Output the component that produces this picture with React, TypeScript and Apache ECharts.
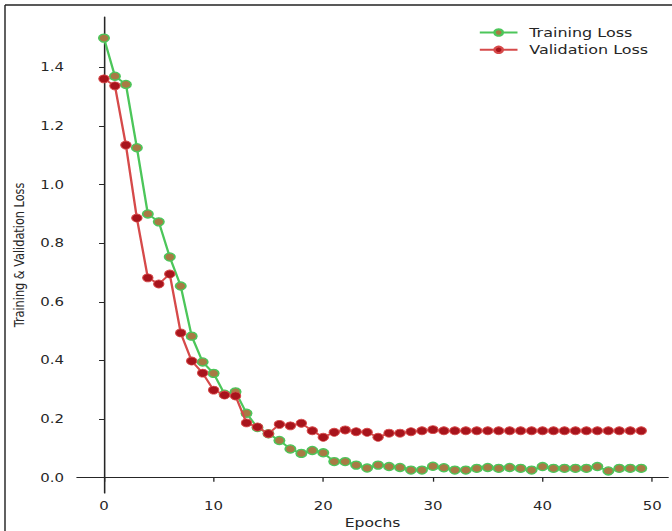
import React, { useEffect, useRef } from "react";
import * as echarts from "echarts";

const epochs: number[] = Array.from({ length: 50 }, (_, i) => i);

const trainingLoss: number[] = [
  1.50, 1.37, 1.342, 1.126, 0.90, 0.873, 0.753, 0.654, 0.483, 0.395,
  0.356, 0.285, 0.293, 0.22, 0.171, 0.15, 0.127, 0.098, 0.083, 0.093,
  0.085, 0.055, 0.055, 0.043, 0.033, 0.043, 0.038, 0.035, 0.026, 0.026,
  0.039, 0.034, 0.026, 0.026, 0.032, 0.035, 0.032, 0.035, 0.032, 0.026,
  0.038, 0.032, 0.032, 0.032, 0.032, 0.038, 0.023, 0.032, 0.032, 0.032,
];

const validationLoss: number[] = [
  1.361, 1.337, 1.135, 0.886, 0.682, 0.661, 0.695, 0.494, 0.398, 0.357,
  0.299, 0.282, 0.279, 0.187, 0.173, 0.150, 0.182, 0.177, 0.186, 0.160,
  0.138, 0.155, 0.163, 0.157, 0.155, 0.138, 0.152, 0.152, 0.157, 0.160,
  0.164, 0.160, 0.160, 0.160, 0.160, 0.160, 0.160, 0.160, 0.160, 0.160,
  0.160, 0.160, 0.160, 0.160, 0.160, 0.160, 0.160, 0.160, 0.160, 0.160,
];

const yTicks: number[] = [0, 0.2, 0.4, 0.6, 0.8, 1.0, 1.2, 1.4];
const xTicks: number[] = [0, 10, 20, 30, 40, 50];

const FONT = "DejaVu Sans";
const STRETCH = 1.3; // the reference picture is stretched horizontally
const W = 672 / STRETCH;
const H = 531;
const TXT = "#262626";

export default function App() {
  const ref = useRef<HTMLDivElement>(null);
  useEffect(() => {
    if (!ref.current) return;
    const chart = echarts.init(ref.current, undefined, { renderer: "svg" });
    chart.setOption({
      animation: false,
      backgroundColor: "#ffffff",
      grid: {
        left: 77 / STRETCH,
        right: W - 668 / STRETCH,
        top: 17,
        bottom: 38,
        containLabel: false,
        outerBoundsMode: "none",
      },
      legend: {
        orient: "vertical",
        left: 472 / STRETCH,
        top: 21.5,
        itemWidth: 29,
        itemHeight: 8,
        itemGap: 5.3,
        textStyle: { fontFamily: FONT, fontSize: 12.3, color: TXT, padding: [0, 0, 0, 4] },
        data: ["Training Loss", "Validation Loss"],
      },
      xAxis: {
        type: "value",
        min: -2.46,
        max: 51.45,
        name: "Epochs",
        nameLocation: "middle",
        nameGap: 23,
        nameTextStyle: { fontFamily: FONT, fontSize: 12, color: TXT },
        axisLine: { show: true, lineStyle: { color: TXT, width: 1.2 } },
        axisTick: { show: true, length: 4, customValues: xTicks, lineStyle: { color: TXT } },
        axisLabel: {
          customValues: xTicks,
          fontFamily: FONT,
          fontSize: 11.5,
          color: TXT,
          margin: 7,
          formatter: (v: number) => String(Math.round(v)),
        },
        splitLine: { show: false },
      },
      yAxis: {
        type: "value",
        min: -0.0522,
        max: 1.572,
        name: "Training & Validation Loss",
        nameLocation: "middle",
        nameGap: 34,
        nameRotate: 90,
        nameTextStyle: { fontFamily: FONT, fontSize: 11.3, color: TXT },
        axisLine: { show: true, lineStyle: { color: TXT, width: 1.2 } },
        axisTick: { show: true, length: 3.8, customValues: yTicks, lineStyle: { color: TXT } },
        axisLabel: {
          customValues: yTicks,
          fontFamily: FONT,
          fontSize: 11.5,
          color: TXT,
          margin: 10,
          formatter: (v: number) => v.toFixed(1),
        },
        splitLine: { show: false },
      },
      series: [
        {
          name: "Training Loss",
          type: "line",
          data: epochs.map((e, i) => [e, trainingLoss[i]]),
          symbol: "circle",
          symbolSize: 8,
          showAllSymbol: true,
          lineStyle: { color: "#4cc65a", width: 1.8 },
          itemStyle: { color: "#a87a44", borderColor: "#4cc65a", borderWidth: 1.3 },
          z: 2,
        },
        {
          name: "Validation Loss",
          type: "line",
          data: epochs.map((e, i) => [e, validationLoss[i]]),
          symbol: "circle",
          symbolSize: 8,
          showAllSymbol: true,
          lineStyle: { color: "#d64a4a", width: 1.8 },
          itemStyle: { color: "#a8141c", borderColor: "#d64a4a", borderWidth: 0.8 },
          z: 3,
        },
      ],
      graphic: [
        { type: "line", shape: { x1: 5 / STRETCH, y1: 5, x2: W, y2: 5 }, style: { stroke: "#222", lineWidth: 1.3 } },
        { type: "line", shape: { x1: 5 / STRETCH, y1: 5, x2: 5 / STRETCH, y2: H }, style: { stroke: "#222", lineWidth: 1.1 } },
      ],
    });
    return () => chart.dispose();
  }, []);
  return (
    <div style={{ position: "fixed", left: 0, top: 0, width: 672, height: H, overflow: "hidden", background: "#fff" }}>
      <div
        ref={ref}
        style={{
          width: W,
          height: H,
          transform: `scaleX(${STRETCH})`,
          transformOrigin: "0 0",
        }}
      />
    </div>
  );
}
